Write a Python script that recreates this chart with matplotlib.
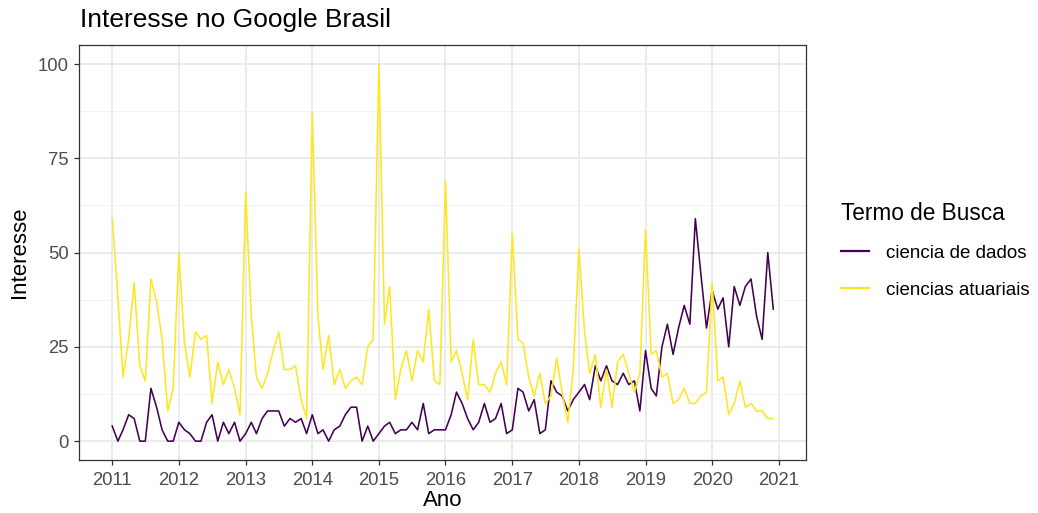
import matplotlib
matplotlib.use("Agg")
import matplotlib.pyplot as plt
import matplotlib.dates as mdates
import pandas as pd

plt.rcParams["font.family"] = ["Liberation Sans", "DejaVu Sans"]

# monthly Google Trends values, Jan 2011 .. Dec 2020
meses = pd.date_range("2011-01-01", periods=120, freq="MS")

ciencia_de_dados = [
    4, 0, 3, 7, 6, 0, 0, 14, 9, 3, 0, 0,        # 2011
    5, 3, 2, 0, 0, 5, 7, 0, 5, 2, 5, 0,         # 2012
    2, 5, 2, 6, 8, 8, 8, 4, 6, 5, 6, 2,         # 2013
    7, 2, 3, 0, 3, 4, 7, 9, 9, 0, 4, 0,         # 2014
    2, 4, 5, 2, 3, 3, 5, 3, 10, 2, 3, 3,        # 2015
    3, 7, 13, 10, 6, 3, 5, 10, 5, 6, 10, 2,     # 2016
    3, 14, 13, 8, 11, 2, 3, 16, 13, 12, 8, 11,  # 2017
    13, 15, 11, 20, 16, 20, 16, 15, 18, 15, 16, 8,  # 2018
    24, 14, 12, 25, 31, 23, 30, 36, 31, 59, 44, 30,  # 2019
    40, 35, 38, 25, 41, 36, 41, 43, 33, 27, 50, 35,  # 2020
]

ciencias_atuariais = [
    59, 38, 17, 27, 42, 20, 16, 43, 37, 27, 8, 14,   # 2011
    50, 26, 17, 29, 27, 28, 10, 21, 15, 19, 14, 7,   # 2012
    66, 33, 17, 14, 18, 24, 29, 19, 19, 20, 11, 6,   # 2013
    87, 33, 19, 28, 15, 19, 14, 16, 17, 15, 25, 27,  # 2014
    100, 31, 41, 11, 19, 24, 16, 24, 21, 35, 16, 15, # 2015
    69, 21, 24, 18, 11, 27, 15, 15, 13, 18, 21, 15,  # 2016
    55, 27, 26, 17, 12, 18, 10, 12, 22, 13, 5, 19,   # 2017
    51, 29, 18, 23, 9, 19, 9, 21, 23, 18, 13, 18,    # 2018
    56, 23, 24, 17, 18, 10, 11, 14, 10, 10, 12, 13,  # 2019
    42, 16, 17, 7, 10, 16, 9, 10, 8, 8, 6, 6,        # 2020
]

termos = ["ciencia de dados", "ciencias atuariais"]
cores = ["#440154", "#FDE725"]
anos = list(range(2011, 2022))
y_ticks = [0, 25, 50, 75, 100]

fig = plt.figure(figsize=(10.38, 5.13), dpi=100, facecolor="white")
ax = fig.add_axes([0.0763, 0.1033, 0.7005, 0.8087])

for serie, termo, cor in zip([ciencia_de_dados, ciencias_atuariais], termos, cores):
    ax.plot(meses, serie, color=cor, linewidth=1.15, label=termo, zorder=3)

# ggplot-style expansion (5%)
x0 = mdates.date2num(meses[0])
x1 = mdates.date2num(meses[-1])
pad = (x1 - x0) * 0.05
ax.set_xlim(x0 - pad, x1 + pad)
ax.set_ylim(-5, 105)

ax.set_xticks([mdates.date2num(pd.Timestamp(f"{a}-01-01")) for a in anos])
ax.set_xticklabels([str(a) for a in anos])
ax.set_yticks(y_ticks)
ax.set_yticks([12.5, 37.5, 62.5, 87.5], minor=True)

# grid (theme_bw)
ax.grid(which="major", color="#EBEBEB", linewidth=1.4, zorder=0)
ax.grid(which="minor", axis="y", color="#F2F2F2", linewidth=0.7, zorder=0)
ax.set_axisbelow(True)

for s in ax.spines.values():
    s.set_color("#333333")
    s.set_linewidth(0.9)

ax.tick_params(axis="both", which="major", length=3.5, width=0.9, color="#333333",
               labelsize=13.3, labelcolor="#4D4D4D", pad=4)
ax.tick_params(axis="x", which="major", pad=5)
ax.tick_params(axis="both", which="minor", length=0)

ax.set_xlabel("Ano", fontsize=16, color="black")
ax.xaxis.set_label_coords(0.5, -0.073)
ax.set_ylabel("Interesse", fontsize=16, color="black")
ax.yaxis.set_label_coords(-0.068, 0.5)

fig.text(80 / 1038, 1 - 27.5 / 513, "Interesse no Google Brasil", fontsize=19,
         ha="left", va="baseline")

leg = fig.legend(loc="upper left", bbox_to_anchor=(0.810, 0.607), frameon=False,
                 title="Termo de Busca", title_fontsize=16.3, fontsize=13.5,
                 handlelength=1.5, handletextpad=0.9, labelspacing=1.06,
                 borderpad=0, borderaxespad=0)
leg._legend_box.align = "left"
for h in leg.legend_handles:
    h.set_linewidth(1.6)

fig.savefig("out.png", dpi=100, facecolor="white")
